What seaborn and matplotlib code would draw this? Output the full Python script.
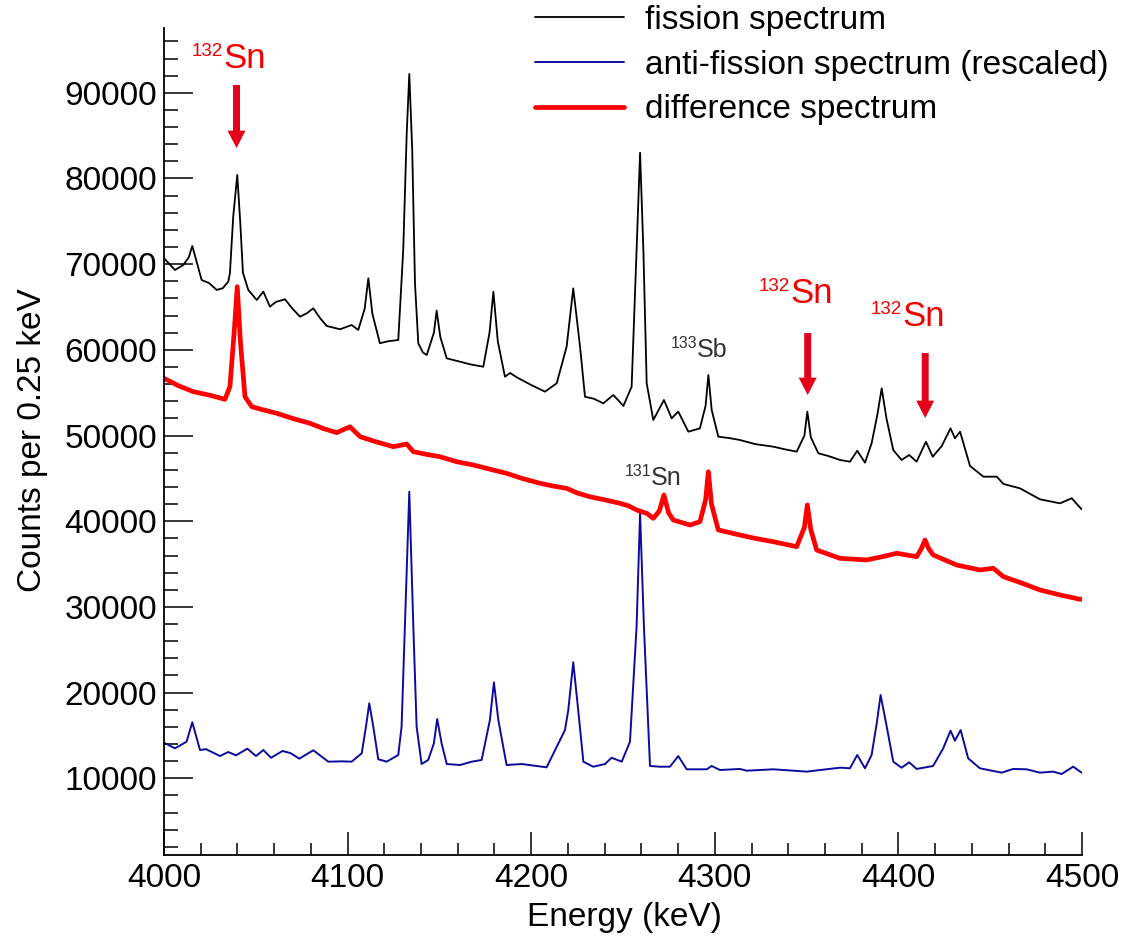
import numpy as np
import pandas as pd
import matplotlib
matplotlib.use("Agg")
import matplotlib.pyplot as plt
from matplotlib.ticker import MultipleLocator
from matplotlib.patches import ArrowStyle
import seaborn as sns

# ---------------- data ----------------
fission_E = [4000.0, 4006.0, 4010.5, 4013.5, 4015.4, 4017.5, 4020.5, 4024.5, 4028.7, 4032.0,
             4035.0, 4035.9, 4037.7, 4039.9, 4041.5, 4043.0, 4045.9, 4050.5, 4054.1, 4057.7,
             4061.0, 4065.9, 4070.0, 4074.1, 4078.0, 4081.3, 4085.0, 4088.6, 4095.9, 4102.2,
             4105.8, 4109.3, 4111.3, 4113.5, 4117.6, 4122.0, 4127.6, 4130.3, 4132.2, 4133.6,
             4135.2, 4136.7, 4138.5, 4141.0, 4143.1, 4147.0, 4148.5, 4150.5, 4154.0, 4161.2,
             4167.0, 4173.9, 4177.3, 4179.4, 4181.8, 4185.7, 4188.5, 4192.1, 4200.0, 4207.5,
             4213.9, 4219.3, 4222.9, 4226.6, 4229.3, 4234.0, 4239.3, 4244.7, 4247.5, 4250.2,
             4254.7, 4257.4, 4259.3, 4261.1, 4262.9, 4266.5, 4272.3, 4276.5, 4280.1, 4285.6,
             4291.9, 4295.0, 4296.5, 4298.3, 4301.9, 4308.0, 4313.7, 4322.0, 4331.9, 4338.0,
             4344.6, 4348.8, 4350.4, 4352.3, 4356.4, 4362.0, 4368.2, 4373.6, 4377.6, 4381.8,
             4385.4, 4388.6, 4390.9, 4393.5, 4397.2, 4401.7, 4405.9, 4409.9, 4415.0, 4418.7,
             4423.6, 4428.4, 4430.8, 4433.6, 4439.0, 4446.3, 4453.6, 4457.2, 4466.2, 4477.1,
             4488.0, 4494.4, 4499.8]
fission_counts = [70690, 69320, 69900, 70800, 72120, 70500, 68150, 67800, 66990, 67200,
                  67960, 68930, 75540, 80410, 75000, 69000, 66990, 65820, 66790, 65040,
                  65600, 65900, 64800, 63870, 64300, 64850, 63700, 62790, 62400, 62900,
                  62320, 64800, 68350, 64200, 60770, 61000, 61150, 71650, 85270, 92200,
                  83320, 67770, 60770, 59700, 59400, 62000, 64570, 61500, 59010, 58620,
                  58300, 58030, 62000, 66790, 61000, 56870, 57300, 56800, 55900, 55120,
                  56100, 60370, 67180, 60370, 54530, 54300, 53760, 54730, 54100, 53450,
                  55700, 71650, 83000, 71650, 56100, 51810, 54150, 52010, 52790, 50450,
                  50840, 53500, 57070, 53000, 49870, 49700, 49480, 49000, 48700, 48400,
                  48120, 50000, 52790, 49800, 47930, 47600, 47150, 46950, 48230, 46830,
                  49090, 52500, 55510, 52000, 48310, 47150, 47730, 46950, 49280, 47530,
                  48780, 50840, 49680, 50450, 46450, 45200, 45200, 44350, 43840, 42560,
                  42090, 42680, 41390]

anti_E = [4000.0, 4006.0, 4012.3, 4015.4, 4019.6, 4022.9, 4030.5, 4035.0, 4039.2, 4045.4,
          4050.1, 4054.1, 4058.3, 4064.6, 4069.0, 4073.7, 4081.3, 4089.5, 4096.8, 4102.2,
          4107.7, 4110.0, 4111.8, 4114.0, 4116.7, 4121.3, 4127.6, 4129.4, 4131.2, 4133.6,
          4135.8, 4137.6, 4140.3, 4143.9, 4147.0, 4148.8, 4151.2, 4154.0, 4161.2, 4167.6,
          4173.0, 4177.5, 4179.7, 4182.1, 4186.6, 4194.8, 4208.4, 4218.4, 4220.2, 4222.9,
          4225.6, 4228.4, 4233.8, 4240.2, 4243.8, 4249.3, 4253.8, 4257.4, 4259.3, 4261.4,
          4264.7, 4270.2, 4275.6, 4280.1, 4284.7, 4295.6, 4298.3, 4302.8, 4313.7, 4317.4,
          4331.9, 4350.1, 4368.2, 4373.6, 4377.6, 4381.8, 4385.4, 4388.2, 4390.3, 4393.3,
          4397.2, 4401.7, 4405.9, 4409.9, 4418.9, 4424.4, 4428.4, 4430.8, 4433.9, 4438.0,
          4444.4, 4456.2, 4462.5, 4469.8, 4477.1, 4484.3, 4488.9, 4495.2, 4499.8]
anti_counts = [14160, 13500, 14270, 16540, 13300, 13400, 12600, 13070, 12680, 13460,
               12600, 13300, 12400, 13190, 12930, 12290, 13270, 11940, 11980, 11940,
               12920, 16020, 18750, 16020, 12220, 11940, 12720, 16020, 27700, 43450,
               27700, 16020, 11670, 12140, 14080, 16920, 14080, 11670, 11550, 11940,
               12140, 16800, 21200, 16800, 11550, 11670, 11280, 15640, 17970, 23540,
               17970, 11940, 11350, 11670, 12400, 11940, 14270, 27700, 40930, 27700,
               11440, 11350, 11360, 12600, 11050, 11050, 11440, 10970, 11090, 10890,
               11050, 10780, 11240, 11170, 12720, 11170, 12720, 16420, 19720, 16420,
               11940, 11240, 11860, 11090, 11440, 13500, 15560, 14390, 15630, 12330,
               11170, 10660, 11090, 11050, 10660, 10780, 10500, 11360, 10660]

diff_E = [4000.0, 4008.0, 4016.0, 4025.0, 4033.2, 4035.9, 4038.2, 4039.9, 4041.6, 4044.1,
          4047.8, 4054.0, 4061.4, 4070.0, 4079.5, 4087.0, 4094.1, 4101.3, 4106.8, 4115.0,
          4124.9, 4132.2, 4135.8, 4143.0, 4150.3, 4159.4, 4168.5, 4177.0, 4186.6, 4195.0,
          4204.8, 4212.0, 4219.3, 4225.0, 4232.0, 4240.0, 4248.4, 4253.0, 4257.5, 4260.2,
          4262.9, 4266.5, 4269.8, 4272.3, 4274.8, 4277.4, 4286.5, 4291.9, 4295.0, 4296.5,
          4298.2, 4301.9, 4313.7, 4322.0, 4331.9, 4344.6, 4348.8, 4350.4, 4352.3, 4355.5,
          4368.2, 4382.7, 4392.0, 4399.1, 4409.9, 4412.5, 4414.5, 4416.5, 4419.0, 4431.8,
          4444.4, 4451.7, 4457.2, 4467.0, 4477.1, 4488.0, 4498.9, 4500.0]
diff_counts = [56680, 55800, 55120, 54700, 54230, 55700, 62000, 67370, 61000, 54530,
               53370, 53000, 52600, 52000, 51430, 50800, 50340, 51030, 49870, 49300,
               48700, 49010, 48120, 47800, 47530, 46950, 46560, 46100, 45590, 45000,
               44430, 44100, 43840, 43300, 42860, 42500, 42090, 41800, 41310, 41110,
               40930, 40340, 41200, 43060, 41000, 40140, 39560, 39950, 42500, 45780,
               42000, 38980, 38390, 38000, 37610, 37030, 39300, 41900, 39000, 36640,
               35670, 35480, 35900, 36260, 35860, 36800, 37810, 36800, 36060, 34890,
               34310, 34510, 33530, 32800, 31980, 31400, 30890, 30900]

series_labels = ["fission spectrum", "anti-fission spectrum (rescaled)", "difference spectrum"]
sn132_peaks = [4039.5, 4350.6, 4414.6]
x_ticks = [4000, 4100, 4200, 4300, 4400, 4500]

# ---------------- style ----------------
sns.set_theme(style="ticks")
plt.rcParams["font.family"] = ["Liberation Sans", "DejaVu Sans"]
plt.rcParams["axes.edgecolor"] = "black"
plt.rcParams["text.color"] = "black"
plt.rcParams["axes.labelcolor"] = "black"
plt.rcParams["xtick.color"] = "black"
plt.rcParams["ytick.color"] = "black"

W, H = 1124, 941
fig = plt.figure(figsize=(W / 100, H / 100), dpi=100)
L, R, B, T = 164, 1082, 855, 28
ax = fig.add_axes([L / W, 1 - B / H, (R - L) / W, (B - T) / H])

YMIN, YMAX = 1050, 97560
def vy(py):
    # helper for placing labels: picture pixel row -> counts
    return YMIN + (B - py) * (YMAX - YMIN) / (B - T)
def ex(px):
    return 4000 + (px - L) * 500 / (R - L)

df_f = pd.DataFrame({"E": fission_E, "c": fission_counts})
df_a = pd.DataFrame({"E": anti_E, "c": anti_counts})
df_d = pd.DataFrame({"E": diff_E, "c": diff_counts})

sns.lineplot(data=df_f, x="E", y="c", ax=ax, color="black", lw=1.3, sort=False,
             estimator=None, label=series_labels[0], legend=False)
sns.lineplot(data=df_a, x="E", y="c", ax=ax, color="#0b0b9c", lw=1.4, sort=False,
             estimator=None, label=series_labels[1], legend=False)
sns.lineplot(data=df_d, x="E", y="c", ax=ax, color="#ff0000", lw=3.4, sort=False,
             estimator=None, label=series_labels[2], legend=False)

ax.set_xlim(4000, 4500)
ax.set_ylim(YMIN, YMAX)
ax.set_xticks(x_ticks)
ax.xaxis.set_minor_locator(MultipleLocator(20))
ax.yaxis.set_major_locator(MultipleLocator(10000))
ax.yaxis.set_minor_locator(MultipleLocator(2000))
ax.tick_params(axis="x", which="major", direction="in", length=16.8, width=1.1, pad=6,
               labelsize=24, colors="black")
ax.tick_params(axis="x", which="minor", direction="in", length=8.4, width=1.1)
ax.tick_params(axis="y", which="major", direction="in", length=20.9, width=1.1, pad=5,
               labelsize=24, colors="black")
ax.tick_params(axis="y", which="minor", direction="in", length=10.4, width=1.1)
for s in ["top", "right"]:
    ax.spines[s].set_visible(False)
for s in ["left", "bottom"]:
    ax.spines[s].set_linewidth(1.3)

ax.set_xlabel("Energy (keV)", fontsize=24, color="black")
ax.set_ylabel("Counts per 0.25 keV", fontsize=24, color="black")
ax.xaxis.set_label_coords((624 - L) / (R - L), (B - 902) / (B - T))
ax.yaxis.set_label_coords((48 - L) / (R - L), (B - 440) / (B - T))

# ---------------- legend ----------------
handles = ax.lines[:3]
leg = fig.legend(handles, series_labels, loc="upper left",
                 bbox_to_anchor=(535 / W, 1 - 5 / H), bbox_transform=fig.transFigure,
                 frameon=False, fontsize=24, handlelength=2.67, handletextpad=0.63,
                 labelspacing=0.41, borderpad=0, borderaxespad=0)
for t in leg.get_texts():
    t.set_color("black")

# ---------------- annotations ----------------
arrow_red = "#e2001a"
txt_red = "#f00000"
style = ArrowStyle("simple", head_length=12.5, head_width=13.0, tail_width=5.0)
arrows = [(85, 148), (333, 395), (353, 418)]
for E0, (ytop, ytip) in zip(sn132_peaks, arrows):
    ax.annotate("", xy=(E0, vy(ytip)), xytext=(E0, vy(ytop)),
                arrowprops=dict(arrowstyle=style, color=arrow_red, lw=0,
                                shrinkA=0, shrinkB=0, mutation_scale=1))

def iso_label(px_split, py_base, mass, elem, big, small, color, raise_px):
    ax.text(ex(px_split), vy(py_base), elem, fontsize=big, color=color,
            ha="left", va="baseline")
    ax.text(ex(px_split), vy(py_base - raise_px), mass, fontsize=small,
            color=color, ha="right", va="baseline")

iso_label(223, 68, "132", "Sn", 25, 13.5, txt_red, 12)
iso_label(790, 303, "132", "Sn", 25, 13.5, txt_red, 12)
iso_label(902, 326, "132", "Sn", 25, 13.5, txt_red, 12)
iso_label(697, 357, "133", "Sb", 18, 11.5, "#333333", 9)
iso_label(651, 485, "131", "Sn", 18, 11.5, "#333333", 9)

fig.savefig("out.png", dpi=100)
